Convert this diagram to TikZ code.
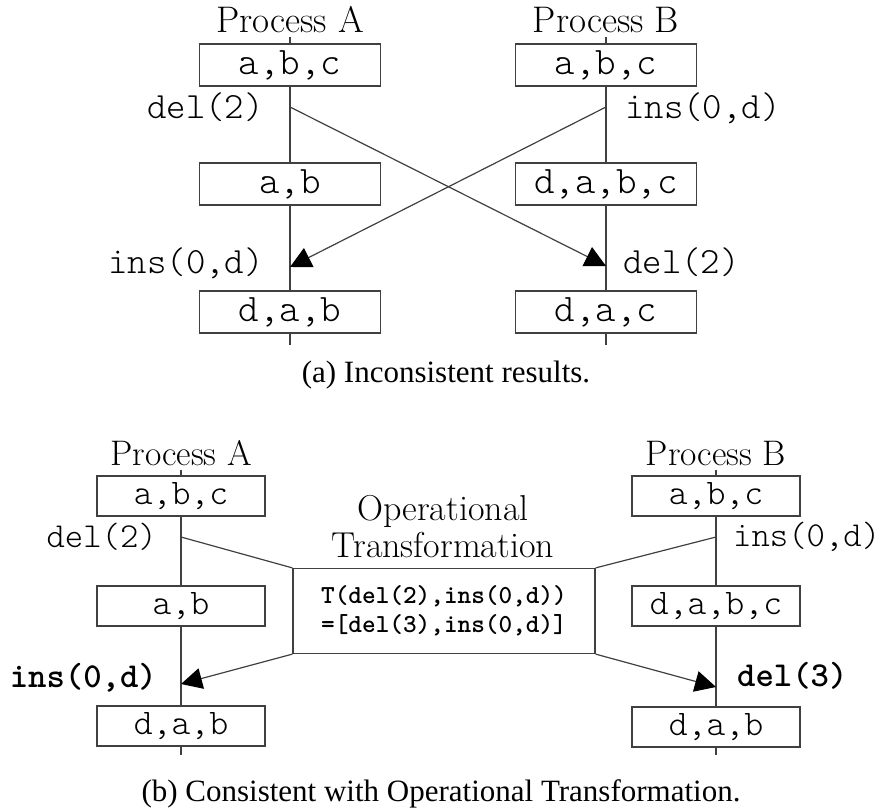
\documentclass[tikz,border=0pt]{standalone}
\usepackage{fontspec}
\newfontfamily\capfont{Liberation Serif}
\usepackage{tikz}
\usetikzlibrary{arrows.meta,positioning}

\tikzset{
  line/.style={draw=black!75, line width=1.2pt},
  state/.style={line, fill=white, minimum width=181pt, minimum height=42pt, inner sep=0pt,
    font={\ttfamily\fontseries{l}\fontsize{39}{39}\selectfont}},
  statesm/.style={state, minimum width=168pt, minimum height=40pt,
    font={\ttfamily\fontseries{l}\fontsize{36}{36}\selectfont}},
  op/.style={inner sep=0pt, font={\ttfamily\fontseries{l}\fontsize{37}{37}\selectfont}},
  opsm/.style={inner sep=0pt, font={\ttfamily\fontseries{l}\fontsize{35}{35}\selectfont}},
  opbf/.style={inner sep=0pt, font={\ttfamily\bfseries\fontsize{35}{35}\selectfont}},
  proc/.style={inner sep=0pt, font=\fontsize{37}{37}\selectfont},
  procsm/.style={proc, font=\fontsize{35.5}{35.5}\selectfont},
  capt/.style={inner sep=0pt, font=\capfont\fontsize{31}{31}\selectfont}
}

\begin{document}
\begin{tikzpicture}[x=1pt,y=-1pt,>={Triangle[length=21pt,width=21pt,black]}]
  \useasboundingbox (0,0) rectangle (880,811);

  % (a) inconsistent
  \node[proc, anchor=base] (PA) at (290,32) {Process A};
  \node[proc, anchor=base] (PB) at (606,32) {Process B};
  \node[state] (A1) at (290,65) {a,b,c};
  \node[state] (A2) at (290,184) {a,b};
  \node[state] (A3) at (290,312) {d,a,b};
  \node[state] (B1) at (606,65) {a,b,c};
  \node[state] (B2) at (606,184) {d,a,b,c};
  \node[state] (B3) at (606,312) {d,a,c};
  \coordinate (tA) at (290,37);  \coordinate (bA) at (290,345);
  \coordinate (tB) at (606,37);  \coordinate (bB) at (606,345);
  \coordinate (sA) at (290,107); \coordinate (rA) at (290,267);
  \coordinate (sB) at (606,107); \coordinate (rB) at (606,266);
  \draw[line] (tA) -- (A1) -- (A2) -- (A3) -- (bA);
  \draw[line] (tB) -- (B1) -- (B2) -- (B3) -- (bB);
  \node[op, anchor=base east] (dA) at (264,118) {del(2)};
  \node[op, anchor=base west] (iB) at (625,118) {ins(0,d)};
  \node[op, anchor=base east] (iA) at (264,273) {ins(0,d)};
  \node[op, anchor=base west] (dB) at (623,273) {del(2)};
  \draw[line,->] (sA) -- (rB);
  \draw[line,->] (sB) -- (rA);
  \node[capt, anchor=base] (capa) at (446,382) {(a) Inconsistent results.};

  % (b) with OT
  \node[procsm, anchor=base] (QA) at (181,465) {Process A};
  \node[procsm, anchor=base] (QB) at (716,465) {Process B};
  \node[statesm] (C1) at (181,496) {a,b,c};
  \node[statesm] (C2) at (181,606) {a,b};
  \node[statesm] (C3) at (181,726) {d,a,b};
  \node[statesm] (D1) at (716,496) {a,b,c};
  \node[statesm] (D2) at (716,606) {d,a,b,c};
  \node[statesm] (D3) at (716,727) {d,a,b};
  \coordinate (tC) at (181,470); \coordinate (bC) at (181,755);
  \coordinate (tD) at (716,470); \coordinate (bD) at (716,755);
  \coordinate (sC) at (181,537); \coordinate (rC) at (181,684);
  \coordinate (sD) at (716,537); \coordinate (rD) at (716,687);
  \draw[line] (tC) -- (C1) -- (C2) -- (C3) -- (bC);
  \draw[line] (tD) -- (D1) -- (D2) -- (D3) -- (bD);
  \node[line, minimum width=302pt, minimum height=85pt, inner sep=0pt, align=center,
        font={\ttfamily\bfseries\fontsize{26}{29}\selectfont}] (ot) at (444,611)
        {T(del(2),ins(0,d))\\=[del(3),ins(0,d)]};
  \node[proc, align=center, font=\fontsize{36}{37}\selectfont,
        above=10pt of ot.north, xshift=-1pt] (otl) {Operational\\Transformation};
  \node[opsm, anchor=base east] (dC) at (157,547) {del(2)};
  \node[opsm, anchor=base west] (iD) at (733,546) {ins(0,d)};
  \node[opbf, anchor=base east] (iC) at (157,687) {ins(0,d)};
  \node[opbf, anchor=base west] (dD) at (737,686) {del(3)};
  \draw[line] (sC) -- (ot.north west);
  \draw[line] (sD) -- (ot.north east);
  \draw[line,->] (ot.south west) -- (rC);
  \draw[line,->] (ot.south east) -- (rD);
  \node[capt, anchor=base] (capb) at (441,801) {(b) Consistent with Operational Transformation.};
\end{tikzpicture}
\end{document}
